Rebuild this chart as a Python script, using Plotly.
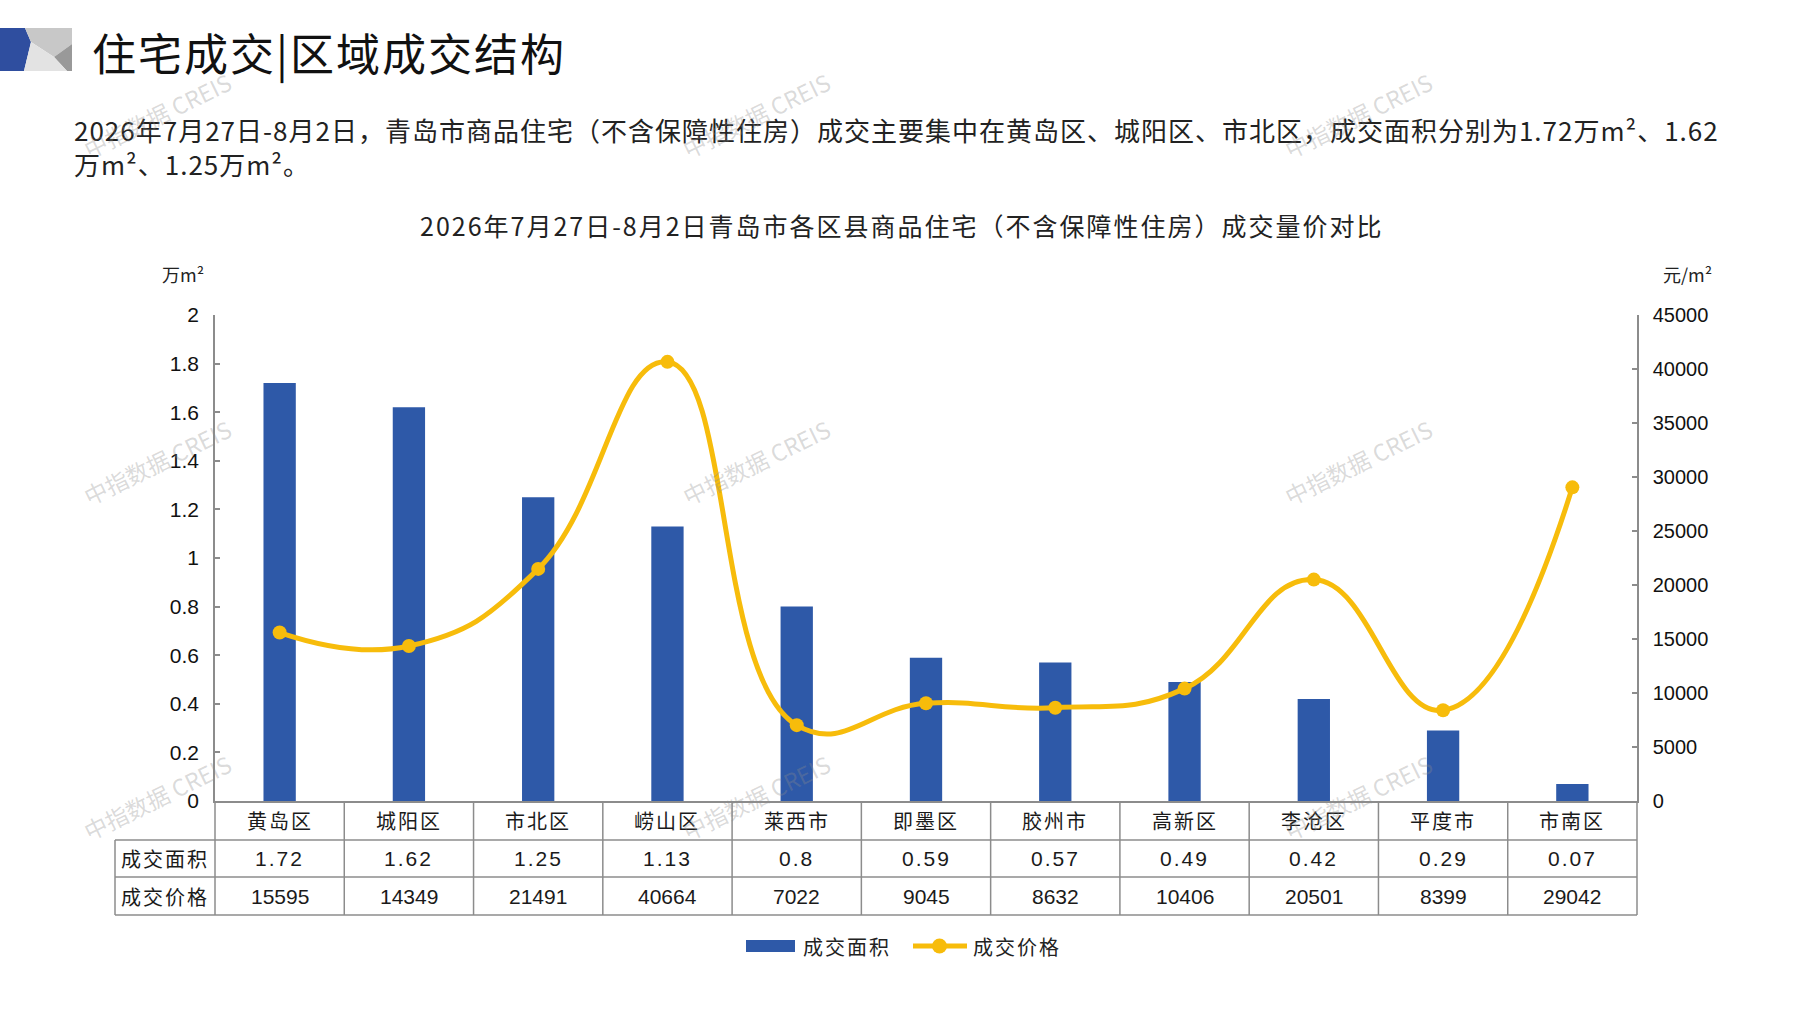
import json
import plotly.graph_objects as go

# ---------------- data ----------------
districts = ["黄岛区", "城阳区", "市北区", "崂山区", "莱西市", "即墨区",
             "胶州市", "高新区", "李沧区", "平度市", "市南区"]
area_wan_m2 = [1.72, 1.62, 1.25, 1.13, 0.8, 0.59, 0.57, 0.49, 0.42, 0.29, 0.07]
price_yuan_m2 = [15595, 14349, 21491, 40664, 7022, 9045, 8632, 10406, 20501, 8399, 29042]
row_labels = ["成交面积", "成交价格"]
series_names = ["成交面积", "成交价格"]

page_title = "住宅成交|区域成交结构"
paragraph = ("2026年7月27日-8月2日，青岛市商品住宅（不含保障性住房）成交主要集中在黄岛区、城阳区、市北区，成交面积分别为1.72万m²、1.62"
             "<br>万m²、1.25万m²。")
chart_title = "2026年7月27日-8月2日青岛市各区县商品住宅（不含保障性住房）成交量价对比"
left_unit = "万m²"
right_unit = "元/m²"
watermark = "中指数据 CREIS"

# ---------------- styling ----------------
W, H = 1797, 1010
L, R, T, B = 215, 1637, 315, 801
BLUE = "#2E59A8"
GOLD = "#F7BC0B"
GRID = "#8c8c8c"
CJK = "Noto Sans CJK SC"
NUM = "Liberation Sans, Noto Sans CJK SC"
NARROW = "Liberation Sans Narrow, Liberation Sans, Noto Sans CJK SC"
TXT = "#1a1a1a"


def fx(px):
    return (px - L) / (R - L)


def fy(py):
    return (B - py) / (B - T)


fig = go.Figure()
fig.add_trace(go.Bar(x=districts, y=area_wan_m2, name=series_names[0], width=0.25,
                     marker=dict(color=BLUE, line=dict(width=0)), yaxis="y"))
fig.add_trace(go.Scatter(x=districts, y=price_yuan_m2, name=series_names[1], yaxis="y2",
                         mode="lines+markers",
                         line=dict(color=GOLD, width=5, shape="spline", smoothing=1.3),
                         marker=dict(size=14, color=GOLD)))

shapes = []
annotations = []
spacing = {}  # annotation index -> letter spacing (px)


def ann(spc=None, **kw):
    kw.setdefault("showarrow", False)
    kw.setdefault("xanchor", "center")
    kw.setdefault("yanchor", "middle")
    if spc:
        spacing[len(annotations)] = spc
    annotations.append(kw)


# ----- table below the plot -----
row_bounds = [801, 840, 877, 915]
line_style = dict(color=GRID, width=1.5)
for py in row_bounds[1:]:
    shapes.append(dict(type="line", xref="paper", yref="paper", x0=fx(115), x1=1,
                       y0=fy(py), y1=fy(py), line=line_style))
for i in range(1, len(districts)):
    shapes.append(dict(type="line", xref="x", yref="paper", x0=i - 0.5, x1=i - 0.5,
                       y0=0, y1=fy(row_bounds[-1]), line=line_style))
for xp in (0, 1):
    shapes.append(dict(type="line", xref="paper", yref="paper", x0=xp, x1=xp,
                       y0=0, y1=fy(row_bounds[-1]), line=line_style))
shapes.append(dict(type="line", xref="paper", yref="paper", x0=fx(115), x1=fx(115),
                   y0=fy(row_bounds[1]), y1=fy(row_bounds[-1]), line=line_style))

row_mid = [(row_bounds[k] + row_bounds[k + 1]) / 2 for k in range(3)]
for i, d in enumerate(districts):
    ann(spc=2, x=d, y=fy(row_mid[0]), xref="x", yref="paper", text=d,
        font=dict(family=CJK, size=20, color=TXT))
    ann(spc=2, x=d, y=fy(row_mid[1]), xref="x", yref="paper", text=str(area_wan_m2[i]),
        font=dict(family=NUM, size=21, color=TXT))
    ann(x=d, y=fy(row_mid[2]), xref="x", yref="paper", text=str(price_yuan_m2[i]),
        font=dict(family=NARROW, size=21, color=TXT))
for k, lab in enumerate(row_labels):
    ann(spc=2, x=fx((115 + L) / 2), y=fy(row_mid[k + 1]), xref="paper", yref="paper",
        text=lab, font=dict(family=CJK, size=20, color=TXT))


# ----- header logo -----
def path(pts):
    return "M" + " L".join(f"{fx(a):.5f},{fy(b):.5f}" for a, b in pts) + " Z"


logo = [
    ([(0, 28), (25, 28), (31, 42), (24, 71), (0, 71)], "#2F4E9F"),
    ([(25, 28), (72, 28), (72, 44), (54, 57), (31, 42)], "#c8c8c8"),
    ([(54, 57), (72, 44), (72, 71), (67, 71)], "#999999"),
    ([(31, 42), (54, 57), (67, 71), (24, 71)], "#e3e3e3"),
]
for pts, col in logo:
    shapes.append(dict(type="path", xref="paper", yref="paper", path=path(pts),
                       fillcolor=col, line=dict(width=0), layer="above"))

ann(spc=2, x=fx(90), y=fy(52), xref="paper", yref="paper", text=page_title,
    xanchor="left", align="left", font=dict(family=CJK, size=44, color="#111111"))
ann(spc=1, x=fx(72), y=fy(146), xref="paper", yref="paper", text=paragraph,
    xanchor="left", align="left", font=dict(family=CJK, size=26, color="#222222"))
ann(spc=2, x=fx(418), y=fy(225), xref="paper", yref="paper", text=chart_title,
    xanchor="left", align="left", font=dict(family=CJK, size=25, color="#222222"))
ann(x=fx(183), y=fy(274), xref="paper", yref="paper", text=left_unit,
    font=dict(family=CJK, size=18, color="#222222"))
ann(x=fx(1688), y=fy(274), xref="paper", yref="paper", text=right_unit,
    font=dict(family=CJK, size=18, color="#222222"))

# ----- custom legend -----
shapes.append(dict(type="rect", xref="paper", yref="paper", x0=fx(746), x1=fx(795),
                   y0=fy(952), y1=fy(940), fillcolor=BLUE, line=dict(width=0)))
ann(spc=2, x=fx(801), y=fy(946), xref="paper", yref="paper", text=series_names[0],
    xanchor="left", align="left", font=dict(family=CJK, size=20, color="#222222"))
shapes.append(dict(type="line", xref="paper", yref="paper", x0=fx(913), x1=fx(967),
                   y0=fy(946), y1=fy(946), line=dict(color=GOLD, width=5)))
shapes.append(dict(type="circle", xref="paper", yref="paper", x0=fx(932), x1=fx(947),
                   y0=fy(953.5), y1=fy(938.5), fillcolor=GOLD, line=dict(width=0)))
ann(spc=2, x=fx(971), y=fy(946), xref="paper", yref="paper", text=series_names[1],
    xanchor="left", align="left", font=dict(family=CJK, size=20, color="#222222"))

# ----- watermarks -----
for wx in (157, 756, 1358):
    for wy in (115, 462, 797):
        ann(x=fx(wx), y=fy(wy), xref="paper", yref="paper", text=watermark, textangle=-26,
            font=dict(family=CJK, size=23, color="rgba(140,140,140,0.33)"))

axis_common = dict(showline=True, linecolor=GRID, linewidth=1.5, ticks="inside", ticklen=5,
                   tickcolor=GRID, tickwidth=1.5, showgrid=False, zeroline=False)

fig.update_layout(
    width=W, height=H,
    margin=dict(l=L, r=W - R, t=T, b=H - B, pad=0),
    paper_bgcolor="white", plot_bgcolor="white",
    showlegend=False,
    xaxis=dict(type="category", range=[-0.5, len(districts) - 0.5], showticklabels=False,
               showline=True, linecolor=GRID, linewidth=1.5, ticks="", showgrid=False,
               zeroline=False),
    yaxis=dict(range=[0, 2], tick0=0, dtick=0.2, ticklabelstandoff=10,
               tickfont=dict(family=NUM, size=21, color="#111111"), **axis_common),
    yaxis2=dict(range=[0, 45000], tick0=0, dtick=5000, tickformat="d", overlaying="y",
                side="right", ticklabelstandoff=10,
                tickfont=dict(family=NUM, size=20, color="#111111"), **axis_common),
    shapes=shapes,
    annotations=annotations,
)

post = (
    "document.body.style.margin='0';document.body.style.overflow='hidden';"
    "var SP=" + json.dumps({str(k): v for k, v in spacing.items()}) + ";"
    "document.querySelectorAll('g.annotation').forEach(function(g){"
    "var i=g.getAttribute('data-index');"
    "if(SP[i]!==undefined){var t=g.querySelector('text.annotation-text');"
    "if(t){t.style.letterSpacing=SP[i]+'px';}}});"
)

fig.write_html("out.html", config={"displayModeBar": False}, post_script=post)
